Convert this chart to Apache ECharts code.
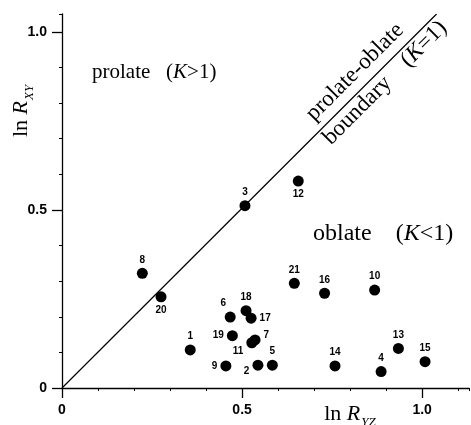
<!DOCTYPE html>
<html>
<head>
<meta charset="utf-8">
<script src="https://cdn.jsdelivr.net/npm/echarts@6/dist/echarts.min.js"></script>
<style>
  html, body { margin: 0; background: #fff; }
  #chart { width: 471px; height: 425px; }
</style>
</head>
<body>
<div id="chart"></div>
<script>
// sample numbers and their strain ratios
const sampleIds = ['1', '2', '3', '4', '5', '6', '7', '8', '9', '10', '11',
  '12', '13', '14', '15', '16', '17', '18', '19', '20', '21'];
const lnRyz = [0.356, 0.544, 0.508, 0.886, 0.584, 0.467, 0.536, 0.223, 0.455, 0.868, 0.527,
  0.656, 0.934, 0.758, 1.008, 0.729, 0.525, 0.511, 0.473, 0.275, 0.645];
const lnRxy = [0.107, 0.064, 0.512, 0.046, 0.064, 0.199, 0.135, 0.322, 0.062, 0.275, 0.127,
  0.581, 0.111, 0.062, 0.074, 0.266, 0.196, 0.217, 0.147, 0.256, 0.294];

// K = 1 line
const boundaryX = [0, 1.04];
const boundaryY = [0, 1.05];

const tickValues = [0, 0.5, 1.0];

// where the sample number sits when not above the dot
const labelPlace = {
  '20': { position: 'bottom' },
  '12': { position: 'bottom' },
  '9': { position: 'left' },
  '19': { position: 'left' },
  '11': { position: 'left', offset: [0, 8] },
  '2': { position: 'left', offset: [0, 6] },
  '6': { position: 'top', offset: [-7, 0] },
  '17': { position: 'right' },
  '7': { position: 'right', offset: [0, -5] }
};

const chart = echarts.init(document.getElementById('chart'));

const points = sampleIds.map((id, i) => ({
  value: [lnRyz[i], lnRxy[i]],
  name: id,
  label: labelPlace[id] || {}
}));

const boldSans = 'Liberation Sans, Arial, sans-serif';
const serif = 'Liberation Serif, Times New Roman, serif';

function tickText(v) {
  return v === 0 ? '0' : v.toFixed(1);
}

// text pieces: roman + italic K
function regionRich(size) {
  return {
    a: { fontFamily: serif, fontSize: size },
    k: { fontFamily: serif, fontSize: size, fontStyle: 'italic' }
  };
}

function axisNameRich() {
  return {
    a: { fontFamily: serif, fontSize: 22, verticalAlign: 'bottom' },
    r: { fontFamily: serif, fontSize: 22, fontStyle: 'italic', verticalAlign: 'bottom' },
    s: { fontFamily: serif, fontSize: 13, fontStyle: 'italic', verticalAlign: 'bottom', padding: [0, 0, -4, 1] }
  };
}

const majorAxis = {
  type: 'value',
  min: 0,
  axisLine: { show: true, lineStyle: { color: '#000', width: 1.3 } },
  axisTick: { show: true, customValues: tickValues, length: 10, lineStyle: { color: '#000', width: 1.3 } },
  axisLabel: {
    customValues: tickValues,
    formatter: tickText,
    color: '#000',
    fontFamily: boldSans,
    fontWeight: 'bold',
    fontSize: 14,
    margin: 15
  },
  splitLine: { show: false }
};

const minorAxis = {
  type: 'value',
  min: 0,
  interval: 0.1,
  axisLine: { show: false },
  axisTick: { show: true, length: 3, lineStyle: { color: '#000', width: 1 } },
  axisLabel: { show: false },
  splitLine: { show: false }
};

const option = {
  backgroundColor: '#fff',
  animation: false,
  grid: { left: 62, right: 2, top: 14, bottom: 37 },
  xAxis: [
    Object.assign({}, majorAxis, { max: 1.13 }),
    Object.assign({}, minorAxis, { max: 1.13, position: 'bottom' })
  ],
  yAxis: [
    Object.assign({}, majorAxis, { max: 1.05 }),
    Object.assign({}, minorAxis, { max: 1.05, position: 'left' })
  ],
  graphic: [
    {
      type: 'text', x: 92, y: 72,
      style: {
        text: '{a|prolate   (}{k|K}{a|>1)}',
        fill: '#000', verticalAlign: 'middle',
        rich: regionRich(21)
      }
    },
    {
      type: 'text', x: 313, y: 234,
      style: {
        text: '{a|oblate    (}{k|K}{a|<1)}',
        fill: '#000', verticalAlign: 'middle',
        rich: regionRich(24)
      }
    },
    {
      type: 'text', x: 355, y: 72, rotation: Math.PI / 4,
      style: {
        text: 'prolate-oblate', fill: '#000',
        font: '23px ' + serif, align: 'center', verticalAlign: 'middle'
      }
    },
    {
      type: 'text', x: 385, y: 83, rotation: Math.PI / 4,
      style: {
        text: '{a|boundary    (}{k|K}{a|=1)}', fill: '#000',
        align: 'center', verticalAlign: 'middle',
        rich: regionRich(23)
      }
    },
    {
      type: 'text', x: 21, y: 111, rotation: Math.PI / 2,
      style: {
        text: '{a|ln}{r| R}{s|XY}', fill: '#000',
        align: 'center', verticalAlign: 'middle',
        rich: axisNameRich()
      }
    },
    {
      type: 'text', x: 350, y: 414,
      style: {
        text: '{a|ln}{r| R}{s|YZ}', fill: '#000',
        align: 'center', verticalAlign: 'middle',
        rich: axisNameRich()
      }
    }
  ],
  series: [
    {
      type: 'line',
      data: boundaryX.map((x, i) => [x, boundaryY[i]]),
      symbol: 'none',
      lineStyle: { color: '#000', width: 1.2 },
      silent: true
    },
    {
      type: 'scatter',
      data: points,
      symbol: 'circle',
      symbolSize: 11,
      itemStyle: { color: '#000', opacity: 1 },
      label: {
        show: true,
        position: 'top',
        distance: 3,
        formatter: p => p.name,
        color: '#000',
        fontFamily: boldSans,
        fontWeight: 'bold',
        fontSize: 10
      }
    }
  ]
};

chart.setOption(option);
</script>
</body>
</html>
